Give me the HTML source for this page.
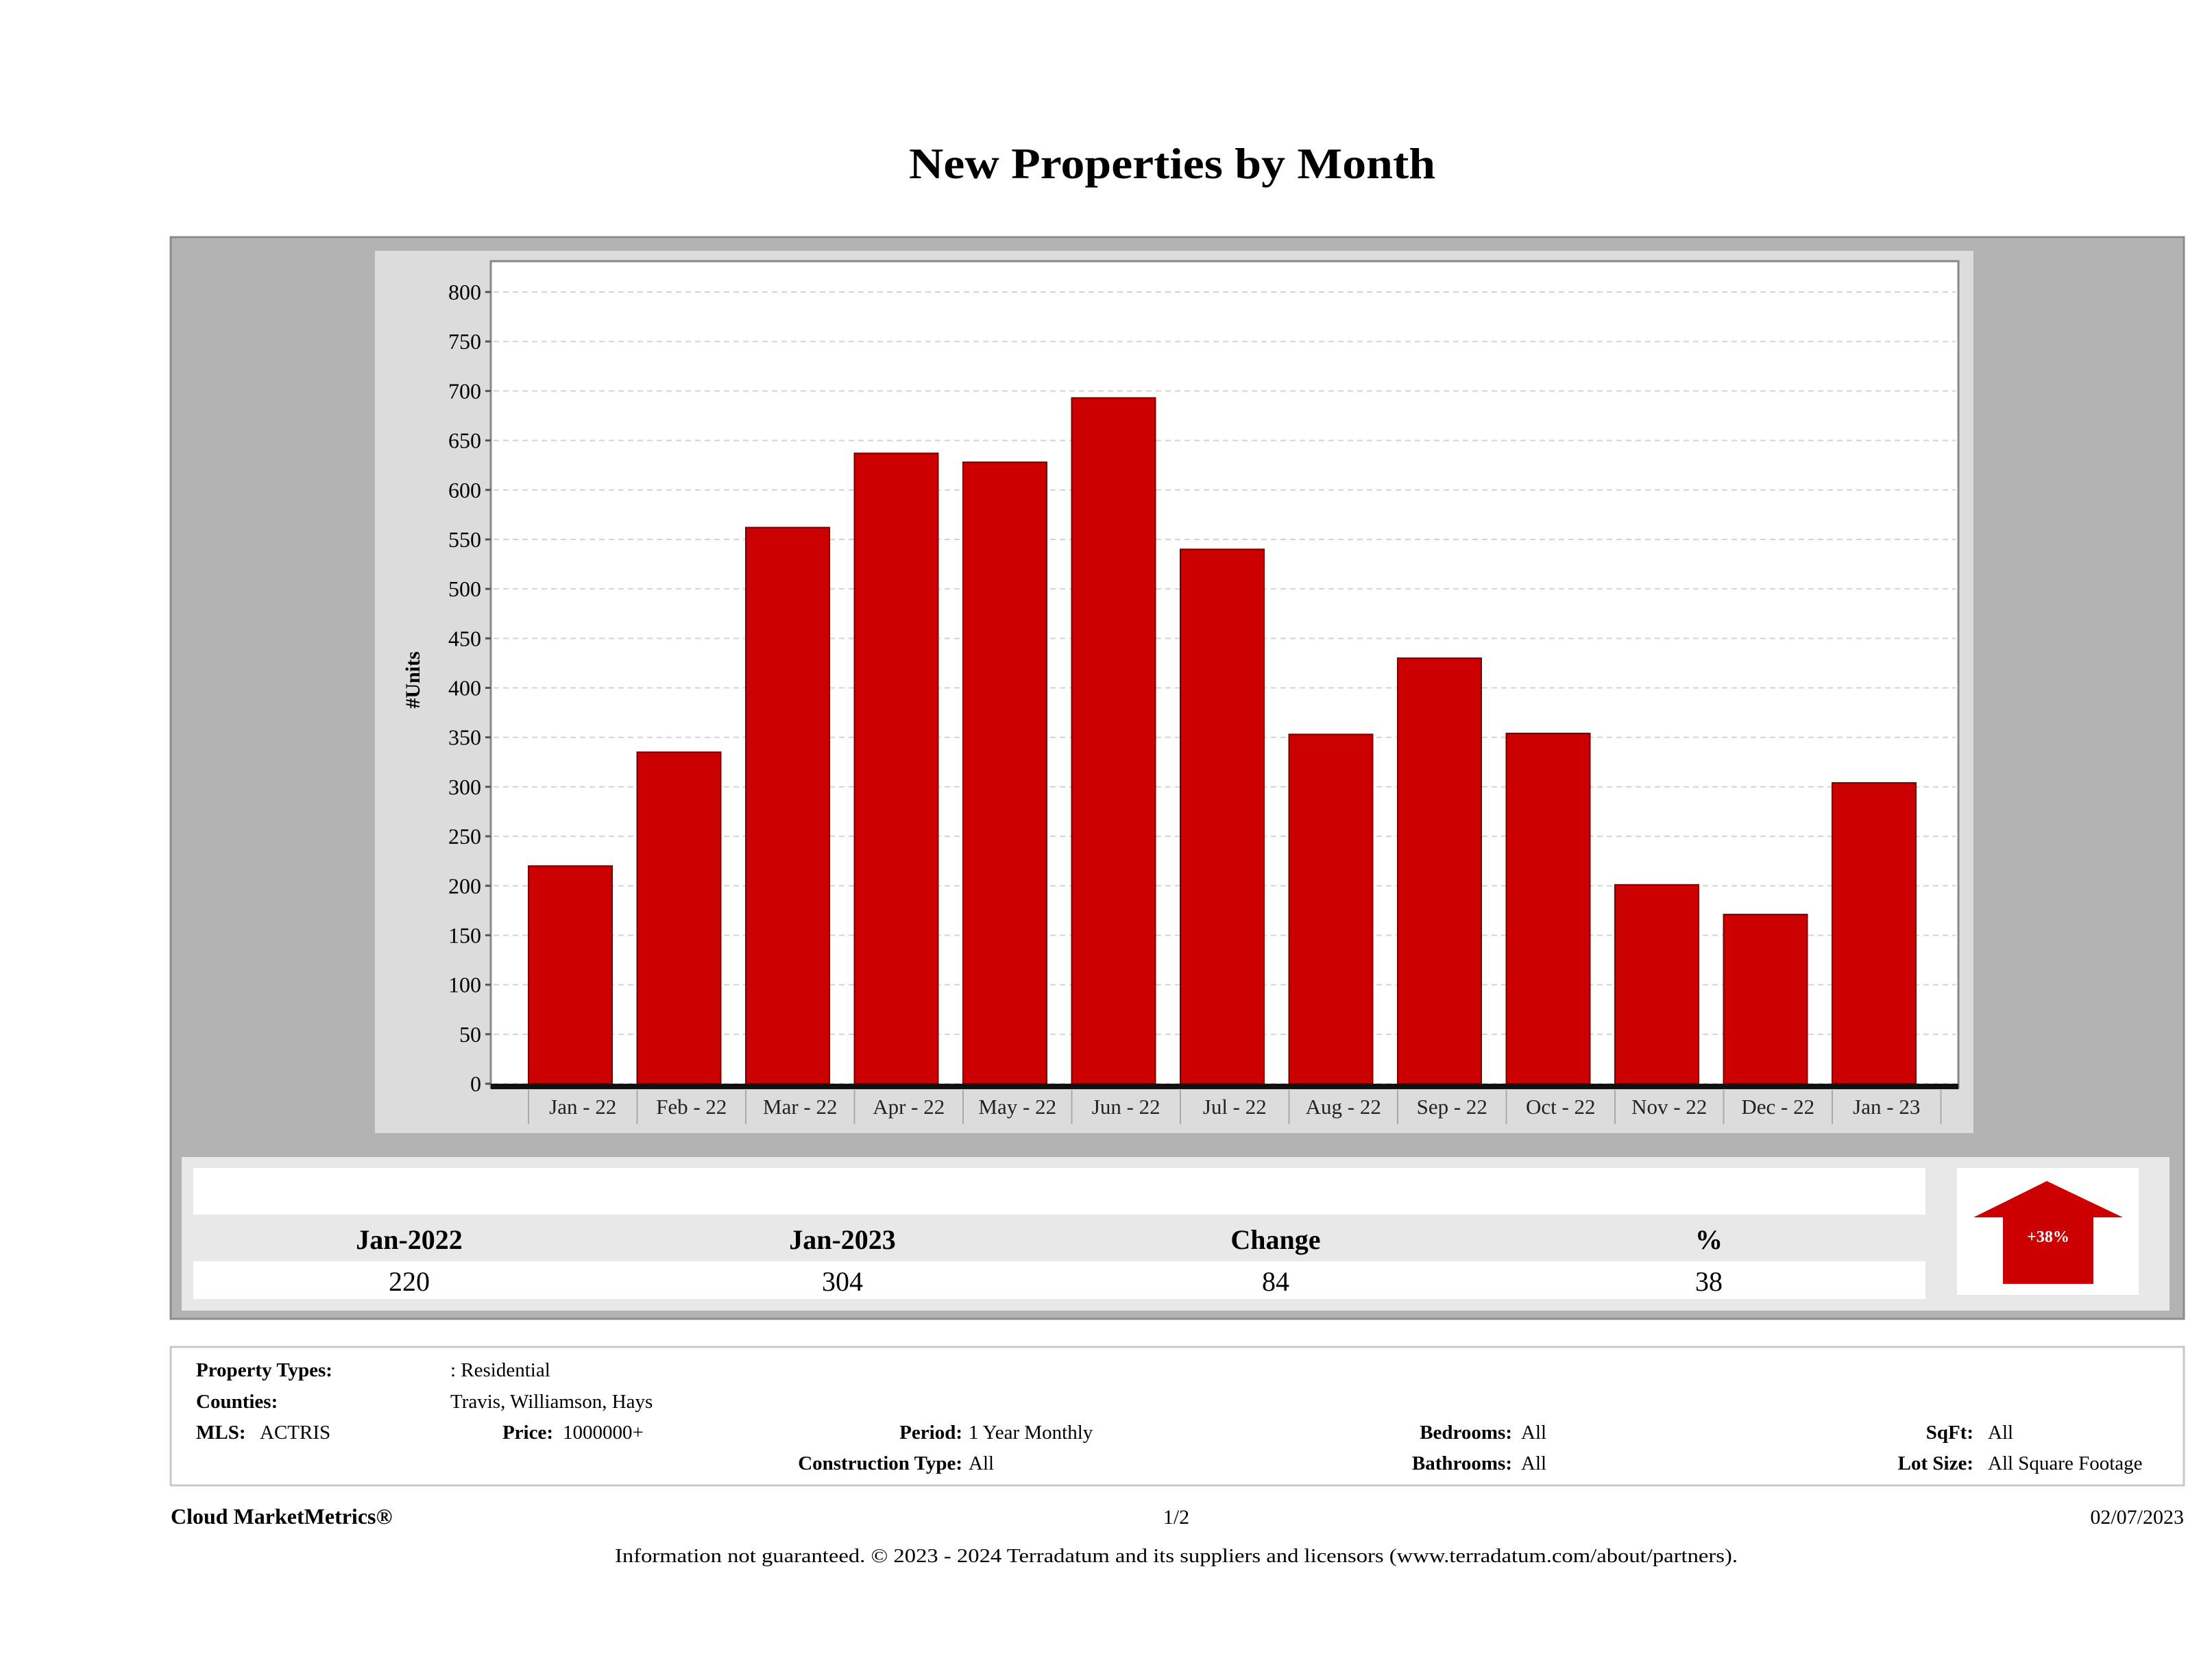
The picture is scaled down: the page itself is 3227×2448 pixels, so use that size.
<!DOCTYPE html>
<html><head><meta charset="utf-8"><style>
html,body{margin:0;padding:0;background:#fff;}
svg{display:block;}
text{font-family:"Liberation Serif",serif;}
</style></head><body>
<svg id="s" width="3227" height="2448" viewBox="0 0 3227 2448" xmlns="http://www.w3.org/2000/svg">
<text x="1710" y="260" font-size="64" font-weight="bold" text-anchor="middle" textLength="768" lengthAdjust="spacingAndGlyphs">New Properties by Month</text>
<rect x="249" y="346" width="2937" height="1578" fill="#b3b3b3" stroke="#8c8c8c" stroke-width="3"/>
<rect x="547" y="366" width="2332" height="1287" fill="#dcdcdc"/>
<rect x="716" y="381" width="2141" height="1206" fill="#fff" stroke="#888" stroke-width="3"/>
<g id="grid"></g>
<g id="bars"></g>
<g id="ylabels"></g>
<g id="xlabels"></g>
<rect x="716" y="1581" width="2141" height="8" fill="#111"/>
<text transform="translate(612,992) rotate(-90)" font-size="30" font-weight="bold" text-anchor="middle">#Units</text>

<rect x="265" y="1688" width="2900" height="224" fill="#e8e8e8"/>
<rect x="282" y="1704" width="2527" height="68" fill="#fff"/>
<rect x="282" y="1840" width="2527" height="55" fill="#fff"/>
<g font-size="40" text-anchor="middle">
<text x="597" y="1822" font-weight="bold">Jan-2022</text>
<text x="1229" y="1822" font-weight="bold">Jan-2023</text>
<text x="1861" y="1822" font-weight="bold">Change</text>
<text x="2493" y="1822" font-weight="bold">%</text>
<text x="597" y="1883">220</text>
<text x="1229" y="1883">304</text>
<text x="1861" y="1883">84</text>
<text x="2493" y="1883">38</text>
</g>
<rect x="2855" y="1704" width="265" height="185" fill="#fff"/>
<polygon points="2986,1723 3097,1776 3054,1776 3054,1873 2922,1873 2922,1776 2879,1776" fill="#cc0000"/>
<text x="2988" y="1812" font-size="24" font-weight="bold" fill="#fff" text-anchor="middle" font-family="Liberation Sans, sans-serif">+38%</text>

<rect x="249" y="1965" width="2937" height="202" fill="#fff" stroke="#c8c8c8" stroke-width="3"/>
<g font-size="29">
<text x="286" y="2008" font-weight="bold">Property Types:</text>
<text x="657" y="2008">: Residential</text>
<text x="286" y="2054" font-weight="bold">Counties:</text>
<text x="657" y="2054">Travis, Williamson, Hays</text>
<text x="286" y="2099" font-weight="bold">MLS:</text>
<text x="379" y="2099">ACTRIS</text>
<text x="807" y="2099" font-weight="bold" text-anchor="end">Price:</text>
<text x="821" y="2099">1000000+</text>
<text x="1404" y="2099" font-weight="bold" text-anchor="end">Period:</text>
<text x="1413" y="2099">1 Year Monthly</text>
<text x="2206" y="2099" font-weight="bold" text-anchor="end">Bedrooms:</text>
<text x="2219" y="2099">All</text>
<text x="2879" y="2099" font-weight="bold" text-anchor="end">SqFt:</text>
<text x="2900" y="2099">All</text>
<text x="1404" y="2144" font-weight="bold" text-anchor="end">Construction Type:</text>
<text x="1413" y="2144">All</text>
<text x="2206" y="2144" font-weight="bold" text-anchor="end">Bathrooms:</text>
<text x="2219" y="2144">All</text>
<text x="2879" y="2144" font-weight="bold" text-anchor="end">Lot Size:</text>
<text x="2900" y="2144">All Square Footage</text>
</g>
<text x="249" y="2223" font-size="32" font-weight="bold">Cloud MarketMetrics®</text>
<text x="1716" y="2223" font-size="30" text-anchor="middle">1/2</text>
<text x="3186" y="2223" font-size="30" text-anchor="end">02/07/2023</text>
<text x="1716" y="2279" font-size="29" text-anchor="middle" textLength="1638" lengthAdjust="spacingAndGlyphs">Information not guaranteed. © 2023 - 2024 Terradatum and its suppliers and licensors (www.terradatum.com/about/partners).</text>
</svg>
<script>
const categories = ["Jan-22","Feb-22","Mar-22","Apr-22","May-22","Jun-22","Jul-22","Aug-22","Sep-22","Oct-22","Nov-22","Dec-22","Jan-23"];
const unitValues = [220,335,562,637,628,693,540,353,430,354,201,171,304];
const yTicks = [0,50,100,150,200,250,300,350,400,450,500,550,600,650,700,750,800];

const NS = "http://www.w3.org/2000/svg";
const plotLeft = 716, plotRight = 2857, y0 = 1581, y800 = 426;
function yScale(v){ return y0 - (v/800)*(y0-y800); }
const firstCenter = 832, step = 158.5;
function xScale(i){ return firstCenter + i*step; }
function mk(tag, attrs){ const e=document.createElementNS(NS,tag); for(const k in attrs) e.setAttribute(k, attrs[k]); return e; }

const grid=document.getElementById('grid'), yl=document.getElementById('ylabels');
yTicks.forEach(t=>{
  const y=yScale(t);
  const g=mk('line',{x1:plotLeft+4,x2:plotRight-4,y1:y,y2:y,stroke:'#d4d4d4','stroke-width':2,'stroke-dasharray':'8,6'});
  
  
  grid.appendChild(g);
  const tk=mk('line',{x1:708,x2:716,y1:y,y2:y,stroke:'#555','stroke-width':3});
  
  
  yl.appendChild(tk);
  const tx=mk('text',{x:702,y:y+11,'font-size':32,'text-anchor':'end','font-family':'Liberation Sans, sans-serif'});
  tx.textContent=t;
  
  
  yl.appendChild(tx);
});
const bars=document.getElementById('bars'), xl=document.getElementById('xlabels');
const bw=122;
unitValues.forEach((v,i)=>{
  const cx=xScale(i), y=yScale(v);
  const r=mk('rect',{x:cx-bw/2,y:y,width:bw,height:y0-y,fill:'#cc0000',stroke:'#7a0000','stroke-width':2});
  
  
  bars.appendChild(r);
  const lx=cx-bw/2+step/2;
  const t=mk('text',{x:lx,y:1625,'font-size':31,'text-anchor':'middle',fill:'#222'});
  t.textContent=categories[i].replace('-',' - ');
  
  
  xl.appendChild(t);
  const sx=cx-bw/2+step;
  const sep=mk('line',{x1:sx,x2:sx,y1:1590,y2:1640,stroke:'#aaa','stroke-width':2});
  
  
  xl.appendChild(sep);
});
const s0x=firstCenter-bw/2;
const s0=mk('line',{x1:s0x,x2:s0x,y1:1590,y2:1640,stroke:'#aaa','stroke-width':2});


xl.appendChild(s0);
</script>
</body></html>
